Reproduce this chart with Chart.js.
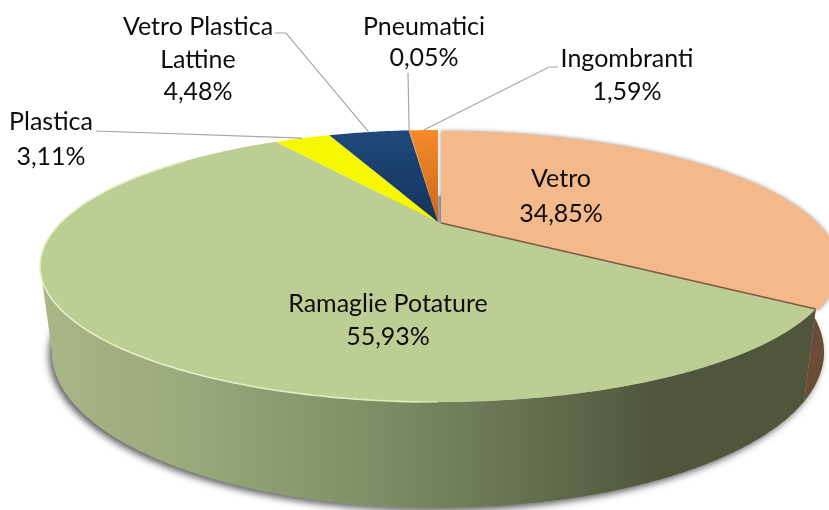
<!DOCTYPE html>
<html lang="it">
<head>
<meta charset="utf-8">
<title>Raccolta differenziata</title>
<script src="https://cdn.jsdelivr.net/npm/chart.js@4/dist/chart.umd.min.js"></script>
<style>
  html, body { margin: 0; padding: 0; background: #fff; overflow: hidden; }
  #wrap { position: relative; width: 829px; height: 510px; }
</style>
</head>
<body>
<div id="wrap"><canvas id="pie" width="829" height="510"></canvas></div>
<script>
// --- Data ---
var categories = ['Vetro', 'Ramaglie Potature', 'Plastica', 'Vetro Plastica Lattine', 'Pneumatici', 'Ingombranti'];
var shares = [34.85, 55.93, 3.11, 4.48, 0.05, 1.59];

// --- Colours, top face (top of slice -> apex) ---
var topColors = ['#f3b98a', '#bdce94', '#f7f700', '#1f4a7c', '#f68b2a', '#f68b2a'];
var apexColors = ['#f3b98a', '#bdce94', '#f7f700', '#14325a', '#c9661a', '#c9661a'];

// --- Label text: [line, centre x, centre y] ---
var nameLines = [
  [['Vetro', 561, 179]],
  [['Ramaglie Potature', 388, 304]],
  [['Plastica', 51, 122]],
  [['Vetro Plastica', 198, 27], ['Lattine', 198, 60]],
  [['Pneumatici', 424, 27]],
  [['Ingombranti', 627, 59]]
];
var valuePlaces = [[561, 214], [388, 337], [51, 157], [198, 92], [424, 58], [627, 92]];
// Leader lines start here and end on the middle of their slice
var leaderStarts = [null, null, [[96, 131]], [[275, 33], [286, 33]], [[408, 73]], [[558, 67], [549, 67]]];

// --- Projection of the pie: a tilted disc seen in perspective ---
var TILT = 0.3236;
var TOP_FACE = { cx: 438, cy: 222, a: 376.6, b: 121.8 };
var BOTTOM_FACE = { cx: 438, cy: 301.5, a: 365.2, b: 139.6 };

function project(face, angle) {
  var u = Math.cos(angle);
  var v = Math.sin(angle);
  var w = 1 - TILT * v;
  return { x: face.cx + face.a * u / w, y: face.cy + face.b * v / w };
}

function arcPoints(face, start, end) {
  var pts = [];
  var steps = Math.max(2, Math.ceil(Math.abs(end - start) / 0.01));
  for (var i = 0; i <= steps; i++) {
    pts.push(project(face, start + (end - start) * i / steps));
  }
  return pts;
}

function tracePoints(ctx, pts) {
  pts.forEach(function (p, i) {
    if (i === 0) ctx.moveTo(p.x, p.y); else ctx.lineTo(p.x, p.y);
  });
}

function wallGradient(ctx) {
  var g = ctx.createLinearGradient(43, 0, 829, 0);
  g.addColorStop(0, '#a9b686');
  g.addColorStop(0.2, '#99a87a');
  g.addColorStop(0.45, '#7b8a62');
  g.addColorStop(0.68, '#5c6648');
  g.addColorStop(0.78, '#50563c');
  g.addColorStop(1, '#50563c');
  return g;
}

function fillWall(ctx, start, end, style) {
  var upper = arcPoints(TOP_FACE, start, end);
  var lower = arcPoints(BOTTOM_FACE, start, end);
  ctx.beginPath();
  for (var i = 0; i < upper.length - 1; i++) {
    ctx.moveTo(upper[i].x, upper[i].y);
    ctx.lineTo(upper[i + 1].x, upper[i + 1].y);
    ctx.lineTo(lower[i + 1].x, lower[i + 1].y);
    ctx.lineTo(lower[i].x, lower[i].y);
    ctx.closePath();
  }
  ctx.fillStyle = style;
  ctx.fill();
}

// Joins the leftmost points of the two faces, so the wall has a straight outline there
function fillWallSide(ctx, style) {
  function leftmost(face) {
    return arcPoints(face, Math.PI * 0.5, Math.PI).reduce(function (best, p) {
      return p.x < best.x ? p : best;
    });
  }
  var up = leftmost(TOP_FACE);
  var low = leftmost(BOTTOM_FACE);
  ctx.beginPath();
  ctx.moveTo(up.x, up.y);
  ctx.lineTo(low.x, low.y);
  ctx.lineTo(low.x + 60, low.y);
  ctx.lineTo(up.x + 60, up.y);
  ctx.closePath();
  ctx.fillStyle = style;
  ctx.fill();
}

function drawShadow(ctx) {
  ctx.save();
  ctx.beginPath();
  tracePoints(ctx, arcPoints(BOTTOM_FACE, 0, Math.PI * 2));
  ctx.closePath();
  ctx.shadowColor = 'rgba(40,40,40,0.75)';
  ctx.shadowBlur = 7;
  ctx.shadowOffsetX = -3;
  ctx.shadowOffsetY = 3;
  ctx.fillStyle = '#a8a8a8';
  ctx.fill();
  ctx.restore();
}

function drawSlice(ctx, arc, i) {
  // Vetro is pulled out of the pie a little
  var dx = i === 0 ? 3 : 0;
  var dy = i === 0 ? 1 : 0;
  var pts = arcPoints(TOP_FACE, arc.startAngle, arc.endAngle);
  var g = ctx.createLinearGradient(0, 130, 0, TOP_FACE.cy);
  g.addColorStop(0, topColors[i]);
  g.addColorStop(1, apexColors[i]);

  ctx.save();
  ctx.translate(dx, dy);
  if (i === 0) {
    ctx.shadowColor = 'rgba(0,0,0,0.4)';
    ctx.shadowBlur = 4;
  }
  ctx.beginPath();
  ctx.moveTo(TOP_FACE.cx, TOP_FACE.cy);
  pts.forEach(function (p) { ctx.lineTo(p.x, p.y); });
  ctx.closePath();
  ctx.fillStyle = g;
  ctx.fill();
  ctx.restore();
}

// Pale rim along the front left of the top face
function drawRim(ctx, arc) {
  var g = ctx.createLinearGradient(43, 0, 480, 0);
  g.addColorStop(0, 'rgba(228,242,196,1)');
  g.addColorStop(0.85, 'rgba(228,242,196,0.9)');
  g.addColorStop(1, 'rgba(228,242,196,0)');
  ctx.save();
  ctx.beginPath();
  tracePoints(ctx, arcPoints(TOP_FACE, Math.PI * 0.5, arc.endAngle - 0.35));
  ctx.strokeStyle = g;
  ctx.lineWidth = 1.6;
  ctx.stroke();
  ctx.restore();
}

var tiltedPie = {
  id: 'tiltedPie',
  beforeDatasetsDraw: function (chart) {
    var ctx = chart.ctx;
    var arcs = chart.getDatasetMeta(0).data;
    var green = wallGradient(ctx);

    drawShadow(ctx);
    // Only the front half of the wall can be seen
    fillWallSide(ctx, green);
    fillWall(ctx, arcs[1].startAngle, Math.PI, green);
    fillWall(ctx, 0, arcs[0].endAngle, '#6c4c38');

    arcs.forEach(function (arc, i) { drawSlice(ctx, arc, i); });
    drawRim(ctx, arcs[1]);

    // Cut edge of Vetro against the green slice
    var edge = project(TOP_FACE, arcs[0].endAngle);
    ctx.beginPath();
    ctx.moveTo(TOP_FACE.cx + 3, TOP_FACE.cy + 1);
    ctx.lineTo(edge.x, edge.y);
    ctx.strokeStyle = '#7b5a45';
    ctx.lineWidth = 1.4;
    ctx.stroke();
    return false;
  },
  afterDraw: function (chart) {
    var ctx = chart.ctx;
    var arcs = chart.getDatasetMeta(0).data;

    // Leader lines
    ctx.save();
    ctx.strokeStyle = '#a6a6a6';
    ctx.lineWidth = 1.2;
    leaderStarts.forEach(function (starts, i) {
      if (!starts) return;
      var end = project(TOP_FACE, (arcs[i].startAngle + arcs[i].endAngle) / 2);
      ctx.beginPath();
      starts.forEach(function (p, j) {
        if (j === 0) ctx.moveTo(p[0], p[1]); else ctx.lineTo(p[0], p[1]);
      });
      ctx.lineTo(end.x, end.y);
      ctx.stroke();
    });
    ctx.restore();

    // Labels
    ctx.save();
    ctx.font = '25px Lato';
    ctx.fillStyle = '#0d0d0d';
    ctx.textAlign = 'center';
    ctx.textBaseline = 'middle';
    nameLines.forEach(function (lines, i) {
      lines.forEach(function (line) {
        ctx.fillText(line[0], line[1], line[2]);
      });
      var pct = shares[i].toFixed(2).replace('.', ',') + '%';
      ctx.fillText(pct, valuePlaces[i][0], valuePlaces[i][1]);
    });
    ctx.restore();
  }
};

// --- Chart ---
new Chart(document.getElementById('pie'), {
  type: 'pie',
  data: {
    labels: categories,
    datasets: [{ data: shares, backgroundColor: topColors, borderWidth: 0 }]
  },
  options: {
    responsive: false,
    animation: false,
    rotation: 0,
    plugins: { legend: { display: false }, tooltip: { enabled: false } }
  },
  plugins: [tiltedPie]
});
</script>
</body>
</html>
